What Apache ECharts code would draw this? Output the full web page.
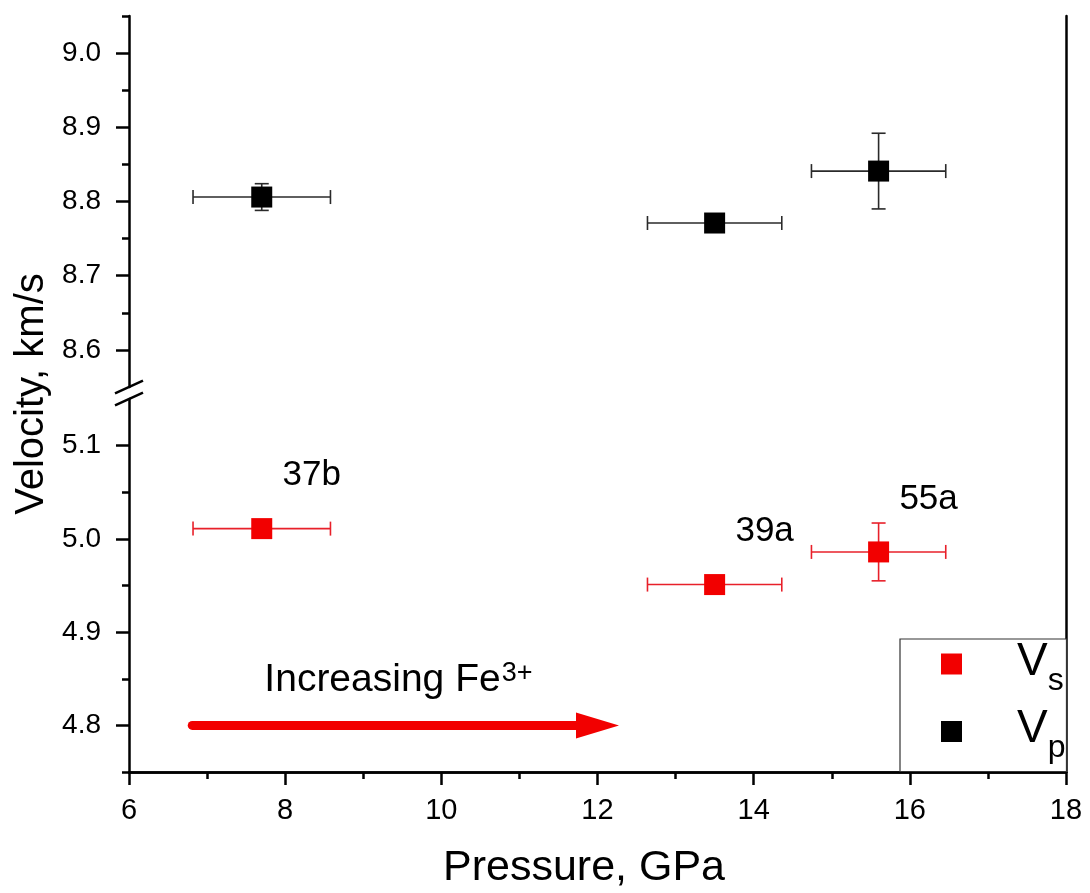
<!DOCTYPE html>
<html>
<head>
<meta charset="utf-8">
<script src="https://cdn.jsdelivr.net/npm/echarts@6/dist/echarts.min.js"></script>
<style>html,body{margin:0;padding:0;background:#fff}#c{width:1090px;height:893px}</style>
</head>
<body>
<div id="c"></div>
<script>
// ---- data ----
const pressure = [7.7, 13.5, 15.6];
const pressureErr = [0.88, 0.86, 0.86];
const vp = [8.806, 8.771, 8.841];
const vpErr = [0.018, 0.004, 0.051];
const vs = [5.011, 4.951, 4.986];
const vsErr = [0.004, 0.004, 0.031];
const sampleLabels = ['37b', '39a', '55a'];
const xTicks = [6, 8, 10, 12, 14, 16, 18];
const upperLabels = [8.6, 8.7, 8.8, 8.9, 9.0];
const upperMinor = [8.65, 8.75, 8.85, 8.95, 9.05];
const lowerLabels = [4.8, 4.9, 5.0, 5.1];
const lowerMinor = [4.75, 4.85, 4.95, 5.05];
const arrowX = [6.81, 12.0];
const arrowY = 4.8;
const noteX = 9.45, noteY = 4.848;

const FONT = 'Liberation Sans, Arial, sans-serif';
const BLACK = '#000';
const RED = '#f20000';
const RED_ERR = '#e8202a';

function rows(x, xe, y, ye) { return x.map((v, i) => [v, y[i], xe[i], ye[i]]); }

function errRender(color) {
  return function (params, api) {
    const x = api.value(0), y = api.value(1), xe = api.value(2), ye = api.value(3);
    const l = api.coord([x - xe, y]), r = api.coord([x + xe, y]);
    const t = api.coord([x, y + ye]), b = api.coord([x, y - ye]);
    const c = 7;
    const st = { stroke: color, lineWidth: 1.6 };
    return { type: 'group', children: [
      { type: 'line', shape: { x1: l[0], y1: l[1], x2: r[0], y2: r[1] }, style: st },
      { type: 'line', shape: { x1: l[0], y1: l[1] - c, x2: l[0], y2: l[1] + c }, style: st },
      { type: 'line', shape: { x1: r[0], y1: r[1] - c, x2: r[0], y2: r[1] + c }, style: st },
      { type: 'line', shape: { x1: t[0], y1: t[1], x2: b[0], y2: b[1] }, style: st },
      { type: 'line', shape: { x1: t[0] - c, y1: t[1], x2: t[0] + c, y2: t[1] }, style: st },
      { type: 'line', shape: { x1: b[0] - c, y1: b[1], x2: b[0] + c, y2: b[1] }, style: st }
    ]};
  };
}

const axLine = { show: true, lineStyle: { color: BLACK, width: 2.5 } };
const tickStyle = { color: BLACK, width: 2.5 };

const chart = echarts.init(document.getElementById('c'), null, { renderer: 'canvas' });
const option = {
  backgroundColor: '#fff',
  animation: false,
  textStyle: { fontFamily: FONT },
  grid: [
    { left: 129, right: 24, top: 16, bottom: 121 },
    { left: 129, right: 24, top: 16, height: 371 },
    { left: 129, right: 24, top: 399, bottom: 121 }
  ],
  xAxis: [
    { gridIndex: 0, type: 'value', position: 'top', min: 6, max: 18, axisLine: axLine,
      axisTick: { show: false }, axisLabel: { show: false }, splitLine: { show: false } },
    { gridIndex: 1, type: 'value', min: 6, max: 18, show: false },
    { gridIndex: 2, type: 'value', position: 'bottom', min: 6, max: 18, interval: 2,
      axisLine: axLine, axisTick: { show: true, length: 13, lineStyle: tickStyle },
      minorTick: { show: true, splitNumber: 2, length: 7, lineStyle: tickStyle },
      axisLabel: { color: BLACK, fontSize: 29, margin: 24, fontFamily: FONT,
        customValues: xTicks },
      splitLine: { show: false },
      name: 'Pressure, GPa', nameLocation: 'middle', nameGap: 75,
      nameTextStyle: { color: BLACK, fontSize: 43, fontFamily: FONT, padding: [0, 27, 0, 0] } }
  ],
  yAxis: [
    { gridIndex: 0, type: 'value', position: 'right', min: 0, max: 1, axisLine: axLine,
      axisTick: { show: false }, axisLabel: { show: false }, splitLine: { show: false } },
    { gridIndex: 0, type: 'value', position: 'left', min: 0, max: 1, axisLine: { show: false },
      axisTick: { show: false }, axisLabel: { show: false }, splitLine: { show: false },
      name: 'Velocity, km/s', nameLocation: 'middle', nameGap: 77,
      nameTextStyle: { color: BLACK, fontSize: 40, fontFamily: FONT } },
    { gridIndex: 1, type: 'value', position: 'left', min: 8.55, max: 9.05, axisLine: axLine,
      axisTick: { show: true, length: 13, lineStyle: tickStyle, customValues: upperLabels },
      axisLabel: { color: BLACK, fontSize: 28, margin: 28, fontFamily: FONT, customValues: upperLabels,
        formatter: v => v.toFixed(1) },
      splitLine: { show: false } },
    { gridIndex: 1, type: 'value', position: 'left', min: 8.55, max: 9.05, axisLine: { show: false },
      axisTick: { show: true, length: 7, lineStyle: tickStyle, customValues: upperMinor },
      axisLabel: { show: false }, splitLine: { show: false } },
    { gridIndex: 2, type: 'value', position: 'left', min: 4.75, max: 5.15, axisLine: axLine,
      axisTick: { show: true, length: 13, lineStyle: tickStyle, customValues: lowerLabels },
      axisLabel: { color: BLACK, fontSize: 28, margin: 28, fontFamily: FONT, customValues: lowerLabels,
        formatter: v => v.toFixed(1) },
      splitLine: { show: false } },
    { gridIndex: 2, type: 'value', position: 'left', min: 4.75, max: 5.15, axisLine: { show: false },
      axisTick: { show: true, length: 7, lineStyle: tickStyle, customValues: lowerMinor },
      axisLabel: { show: false }, splitLine: { show: false } }
  ],
  legend: {
    data: ['Vs', 'Vp'], orient: 'vertical', left: 900, top: 639,
    padding: [0, 1, 7, 41], itemGap: 9.5, itemWidth: 21, itemHeight: 21,
    borderColor: '#333', borderWidth: 1.2, backgroundColor: '#fff',
    selectedMode: false,
    formatter: name => '{v|V}{s|' + name.slice(1) + '}',
    textStyle: { color: BLACK, fontFamily: FONT, rich: {
      v: { fontSize: 46, lineHeight: 50, verticalAlign: 'top', padding: [0, 0, 0, 50], fontFamily: FONT, color: BLACK },
      s: { fontSize: 32, lineHeight: 32, verticalAlign: 'top', padding: [26, 0, 0, 0], fontFamily: FONT, color: BLACK }
    } }
  },
  series: [
    { type: 'custom', name: 'errVp', xAxisIndex: 1, yAxisIndex: 2, silent: true,
      renderItem: errRender('#2a2a2a'), data: rows(pressure, pressureErr, vp, vpErr), z: 2 },
    { type: 'scatter', name: 'Vp', xAxisIndex: 1, yAxisIndex: 2, symbol: 'rect', symbolSize: 21,
      itemStyle: { color: BLACK, opacity: 1 }, emphasis: { disabled: true },
      data: pressure.map((x, i) => [x, vp[i]]), z: 3 },
    { type: 'custom', name: 'errVs', xAxisIndex: 2, yAxisIndex: 4, silent: true,
      renderItem: errRender(RED_ERR), data: rows(pressure, pressureErr, vs, vsErr), z: 2 },
    { type: 'scatter', name: 'Vs', xAxisIndex: 2, yAxisIndex: 4, symbol: 'rect', symbolSize: 21,
      itemStyle: { color: RED, opacity: 1 }, emphasis: { disabled: true }, z: 3,
      data: pressure.map((x, i) => ({ value: [x, vs[i]], label: { formatter: sampleLabels[i] } })),
      label: { show: true, position: 'inside', offset: [50, -53], color: BLACK, fontSize: 35, fontFamily: FONT } },
    { type: 'line', name: 'arrow', xAxisIndex: 2, yAxisIndex: 4, silent: true, z: 4,
      lineStyle: { color: RED, width: 9, cap: 'round', opacity: 1 }, itemStyle: { color: RED, opacity: 1 },
      data: [
        { value: [arrowX[0], arrowY], symbol: 'none' },
        { value: [arrowX[1], arrowY], symbol: 'path://M0,0L43,13L0,26Z', symbolSize: [43, 26] }
      ] },
    { type: 'scatter', name: 'note', xAxisIndex: 2, yAxisIndex: 4, silent: true, symbolSize: 0,
      data: [[noteX, noteY]], itemStyle: { opacity: 1 },
      label: { show: true, position: 'inside', formatter: 'Increasing Fe{sup|3+}',
        color: BLACK, fontSize: 39, fontFamily: FONT,
        rich: { sup: { fontSize: 27, verticalAlign: 'top', fontFamily: FONT, color: BLACK, padding: [0, 0, 14, 1] } } } }
  ]
};
chart.setOption(option);

// axis break marks on the left axis
const x0 = chart.convertToPixel({ xAxisIndex: 2 }, 6);
const yTopEnd = chart.convertToPixel({ yAxisIndex: 2 }, 8.55);
const yBotStart = chart.convertToPixel({ yAxisIndex: 4 }, 5.15);
const dx = 14, dy = 6.3;
chart.setOption({ graphic: [
  { type: 'line', shape: { x1: x0 - dx, y1: yTopEnd + dy, x2: x0 + dx, y2: yTopEnd - dy },
    style: { stroke: BLACK, lineWidth: 2.5 }, z: 100 },
  { type: 'line', shape: { x1: x0 - dx, y1: yBotStart + dy, x2: x0 + dx, y2: yBotStart - dy },
    style: { stroke: BLACK, lineWidth: 2.5 }, z: 100 }
] });
</script>
</body>
</html>
